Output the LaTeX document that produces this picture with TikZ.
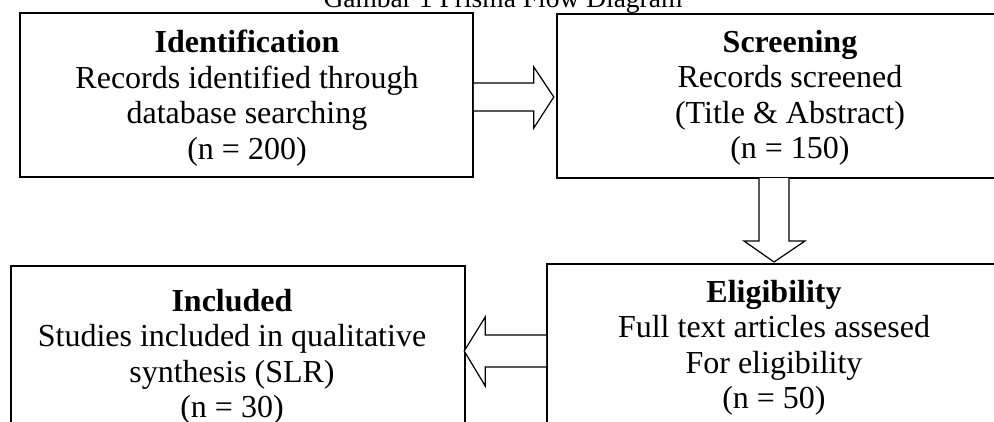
\documentclass[tikz,border=0pt]{standalone}
\usepackage{fontspec}
\setmainfont{Liberation Serif}
\usetikzlibrary{calc}
\tikzset{
  box/.style={draw=black, line width=1.6pt, inner sep=0pt, fill=none},
  txt/.style={anchor=north, inner sep=0pt, align=center, font=\fontsize{32}{35.5}\selectfont},
  barrow/.style={draw=black, line width=1.2pt, fill=white, line join=miter},
}
\newcommand{\firstline}{\rule{0pt}{22pt}}
\begin{document}
\begin{tikzpicture}[x=1pt, y=-1pt]
\useasboundingbox (0,0) rectangle (994,421);
\fill[white] (0,0) rectangle (994,421);
\clip (0,0) rectangle (994,421);

\node[anchor=base, inner sep=0pt, font=\fontsize{27.5}{33}\selectfont] (title) at (503,7) {Gambar 1 Prisma Flow Diagram};

\node[box, minimum width=453pt, minimum height=164pt] (ident) at (246.5,95) {};
\node[box, minimum width=476pt, minimum height=164pt] (screen) at (795,96) {};
\node[box, minimum width=454pt, minimum height=174pt] (incl) at (238,353) {};
\node[box, minimum width=460pt, minimum height=176pt] (elig) at (777,352) {};

\node[txt] (identT) at (247,30) {\firstline\textbf{Identification}\\Records identified through\\database searching\\(n = 200)};
\node[txt] (screenT) at (790,30) {\firstline\textbf{Screening}\\Records screened\\(Title \& Abstract)\\(n = 150)};
\node[txt] (inclT) at (232,289) {\firstline\textbf{Included}\\Studies included in qualitative\\synthesis (SLR)\\(n = 30)};
\node[txt] (eligT) at (774,280) {\firstline\textbf{Eligibility}\\Full text articles assesed\\For eligibility\\(n = 50)};

% block arrow: Identification -> Screening
\draw[barrow] ($(ident.east)+(0,-12)$) -- ++(60,0) -- ++(0,-16) -- ++(20,30) -- ++(-20,31) -- ++(0,-17) -- ++(-60,0);
% block arrow: Screening -> Eligibility
\coordinate (dA) at (759,178);
\draw[barrow] (dA) -- ++(0,63) -- ++(-15,0) -- ++(30,21) -- ++(31,-21) -- ++(-16,0) -- ++(0,-63);
% block arrow: Eligibility -> Included
\draw[barrow] ($(elig.west)+(0,-17)$) -- ++(-61,0) -- ++(0,-18) -- ++(-21,34) -- ++(21,35) -- ++(0,-19) -- ++(61,0);
\end{tikzpicture}
\end{document}
